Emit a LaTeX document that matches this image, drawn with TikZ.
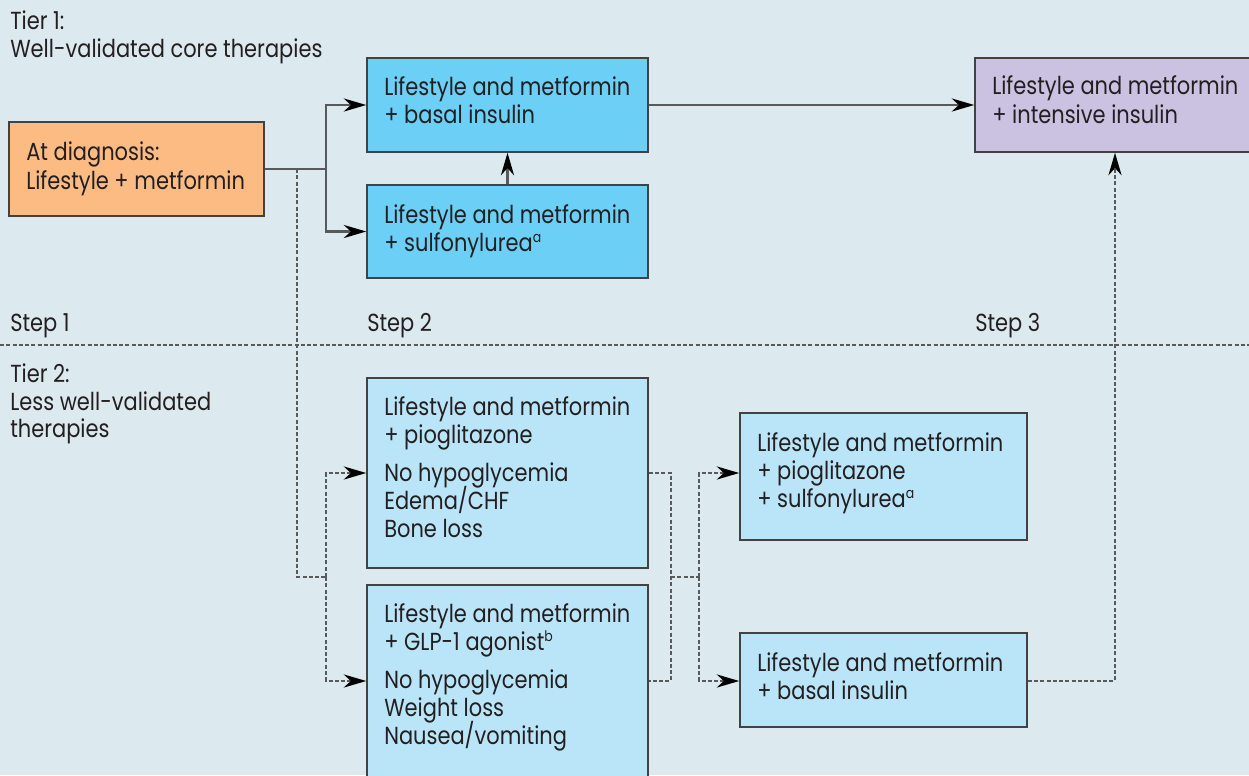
\documentclass[tikz,border=0pt]{standalone}
\usepackage{fontspec}
\setmainfont{Poppins}[FakeStretch=0.85]
\usetikzlibrary{arrows.meta,fit}
\definecolor{bgc}{HTML}{DCE9EF}
\definecolor{orangec}{HTML}{FDBB84}
\definecolor{bluec}{HTML}{6BCFF6}
\definecolor{lbluec}{HTML}{BAE5F9}
\definecolor{purplec}{HTML}{CBC1E1}
\definecolor{txtc}{HTML}{231F20}
\definecolor{linec}{HTML}{58595B}
\tikzset{
  boxnode/.style={draw=txtc!85, line width=1.2pt, inner sep=0pt},
  lbl/.style={anchor=base west, inner sep=0pt, text=txtc, font=\fontsize{18.5pt}{21pt}\selectfont},
  sol/.style={draw=linec, line width=1.7pt},
  dsh/.style={draw=linec, line width=1.3pt, dash pattern=on 3pt off 1.7pt},
  arr/.style={-{Stealth[length=17pt,width=10pt,inset=5.5pt,fill=black,line width=0pt]}},
}
\newcommand{\supa}[1]{\raisebox{0.6ex}{\fontsize{11pt}{11pt}\selectfont #1}}
\begin{document}
\begin{tikzpicture}[x=0.75pt,y=-0.75pt]
\useasboundingbox (0,0) rectangle (1249,775);
\fill[bgc] (0,0) rectangle (1249,775);

% boxes
\node[boxnode, fill=orangec, fit={(9,122) (264,216)}] (diag) {};
\node[boxnode, fill=bluec, fit={(367,58) (648,152)}] (b1) {};
\node[boxnode, fill=bluec, fit={(367,185) (648,278)}] (b2) {};
\node[boxnode, fill=purplec, fit={(975,58) (1262,152)}] (b3) {};
\node[boxnode, fill=lbluec, fit={(367,378) (648,568)}] (c1) {};
\node[boxnode, fill=lbluec, fit={(367,585) (648,777)}] (c2) {};
\node[boxnode, fill=lbluec, fit={(740,413) (1027,540)}] (d1) {};
\node[boxnode, fill=lbluec, fit={(740,633) (1027,727)}] (d2) {};

% labels
\node[lbl] (t1a) at (10,29) {Tier 1:};
\node[lbl] (t1b) at (10,57) {Well-validated core therapies};
\node[lbl] (s1) at (10,331) {Step 1};
\node[lbl] (s2) at (367,331) {Step 2};
\node[lbl] (s3) at (975,331) {Step 3};
\node[lbl] (t2a) at (10,382) {Tier 2:};
\node[lbl] (t2b) at (10,410) {Less well-validated};
\node[lbl] (t2c) at (10,437) {therapies};

\node[lbl] (diag1) at (26,160) {At diagnosis:};
\node[lbl] (diag2) at (26,189) {Lifestyle + metformin};

\node[lbl] (b1a) at (384,95) {Lifestyle and metformin};
\node[lbl] (b1b) at (384,123) {+ basal insulin};
\node[lbl] (b2a) at (384,223) {Lifestyle and metformin};
\node[lbl] (b2b) at (384,251) {+ sulfonylurea\supa{a}};
\node[lbl] (b3a) at (992,94) {Lifestyle and metformin};
\node[lbl] (b3b) at (992,123) {+ intensive insulin};

\node[lbl] (c1a) at (384,415) {Lifestyle and metformin};
\node[lbl] (c1b) at (384,443) {+ pioglitazone};
\node[lbl] (c1c) at (384,481) {No hypoglycemia};
\node[lbl] (c1d) at (384,509) {Edema/CHF};
\node[lbl] (c1e) at (384,537) {Bone loss};

\node[lbl] (c2a) at (384,622) {Lifestyle and metformin};
\node[lbl] (c2b) at (384,650) {+ GLP-1 agonist\supa{b}};
\node[lbl] (c2c) at (384,688) {No hypoglycemia};
\node[lbl] (c2d) at (384,716) {Weight loss};
\node[lbl] (c2e) at (384,744) {Nausea/vomiting};

\node[lbl] (d1a) at (757,451) {Lifestyle and metformin};
\node[lbl] (d1b) at (757,479) {+ pioglitazone};
\node[lbl] (d1c) at (757,507) {+ sulfonylurea\supa{a}};

\node[lbl] (d2a) at (757,671) {Lifestyle and metformin};
\node[lbl] (d2b) at (757,699) {+ basal insulin};

% separator
\coordinate (sepL) at (0,345);
\coordinate (sepR) at (1249,345);
\draw[dsh] (sepL) -- (sepR);

% solid connectors
\coordinate (sx) at (326,0);
\coordinate (dx) at (297,0);
\draw[sol] (diag.east) -- (diag.east -| sx);
\draw[sol,arr] (diag.east -| sx) |- (b1.west);
\draw[sol,arr] (diag.east -| sx) |- (b2.west);
\draw[sol,arr] (b2.north) -- (b1.south);
\draw[sol,arr] (b1.east) -- (b3.west |- b1.east);

% dashed connectors
\coordinate (jA) at (326,577);
\coordinate (jB) at (671,577);
\coordinate (jC) at (699,577);
\coordinate (up) at (1115,0);
\draw[dsh] (diag.east -| dx) |- (jA);
\draw[dsh,arr] (jA) |- (c1.west);
\draw[dsh,arr] (jA) |- (c2.west);
\draw[dsh] (c1.east) -| (jB) |- (c2.east);
\draw[dsh] (jB) -- (jC);
\draw[dsh,arr] (jC) |- (d1.west |- c1.west);
\draw[dsh,arr] (jC) |- (d2.west |- c2.west);
\draw[dsh,arr] (d2.east |- c2.west) -| (b3.south -| up);
\end{tikzpicture}
\end{document}
